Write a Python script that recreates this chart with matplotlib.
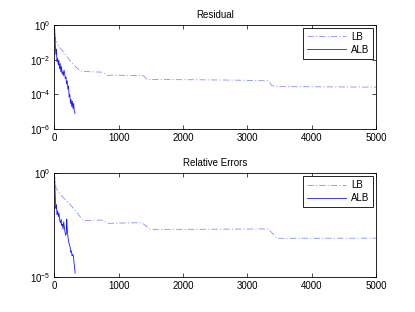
import matplotlib
matplotlib.use("Agg")
import matplotlib.pyplot as plt
import numpy as np
from matplotlib.ticker import NullLocator

# residual, LB (iteration, value)
res_lb_x = [0, 20, 60, 150, 250, 400, 550, 740, 815, 1000, 1384, 1437, 2000, 2800, 3328, 3381, 3450, 4200, 5000]
res_lb_y = [1.0, 0.12, 0.06, 0.025, 0.008, 2.2e-3, 2.0e-3, 1.9e-3, 1.26e-3, 1.25e-3, 1.2e-3, 7.2e-4, 7.0e-4, 6.6e-4, 6.0e-4, 3.2e-4, 2.8e-4, 2.7e-4, 2.6e-4]

# residual, ALB
res_alb_x = [0, 8, 16, 24, 32, 40, 50, 60, 70, 80, 90, 100, 110, 120, 130, 140, 150, 160, 170, 180, 190,
             200, 210, 220, 230, 240, 250, 260, 270, 280, 290, 300, 310, 322]
res_alb_y = [1.0, 0.3, 0.05, 0.02, 0.04, 0.008, 0.012, 0.005, 0.009, 0.003, 0.006, 0.002, 0.004, 0.0015,
             0.002, 0.0012, 0.0025, 0.0016, 0.0008, 0.001, 0.0004, 0.0006, 0.0002, 0.0003, 7e-5, 1e-4,
             3e-5, 5e-5, 2e-5, 4e-5, 1.5e-5, 3e-5, 1e-5, 8e-6]

# relative errors, LB
err_lb_x = [0, 26, 100, 250, 451, 600, 737, 840, 1000, 1360, 1489, 2000, 2800, 3328, 3458, 4000, 5000]
err_lb_y = [1.0, 0.19, 0.09, 0.03, 5.1e-3, 5.3e-3, 5.5e-3, 3.8e-3, 3.9e-3, 4.1e-3, 1.95e-3, 1.95e-3, 2.0e-3, 2.05e-3, 7.2e-4, 7.2e-4, 7.3e-4]

# relative errors, ALB
err_alb_x = [0, 8, 16, 24, 32, 40, 50, 62, 72, 84, 96, 106, 115, 125, 135, 145, 155, 165, 175, 185, 193,
             200, 210, 220, 230, 244, 255, 265, 275, 285, 296, 305, 314, 322]
err_alb_y = [1.0, 0.3, 0.05, 0.02, 0.03, 0.01, 0.015, 0.008, 0.012, 0.005, 0.004, 0.006, 0.003, 0.0035,
             0.002, 0.0045, 0.0025, 0.0015, 0.001, 0.0012, 0.006, 0.002, 0.0009, 0.0005, 0.0004, 0.00028,
             0.00015, 0.00018, 0.0001, 0.00012, 0.0001, 5e-5, 3e-5, 1.5e-5]

titles = ["Residual", "Relative Errors"]

plt.rcParams['font.family'] = ['Liberation Sans', 'DejaVu Sans']
plt.rcParams['font.size'] = 7
plt.rcParams['mathtext.fontset'] = 'custom'
plt.rcParams['mathtext.rm'] = 'Liberation Sans'
plt.rcParams['mathtext.it'] = 'Liberation Sans'
plt.rcParams['lines.scale_dashes'] = False

dashdot = (0, (4.5, 1.6, 0.8, 1.6))

fig = plt.figure(figsize=(4.15, 3.12), dpi=100)
ax1 = fig.add_axes([0.131, 0.5865, 0.775, 0.3335])
ax2 = fig.add_axes([0.131, 0.1131, 0.775, 0.3315])

ax1.semilogy(res_lb_x, res_lb_y, linestyle=dashdot, color='#3344ff', lw=0.6, alpha=0.6, label='LB')
ax1.semilogy(res_alb_x, res_alb_y, '-', color='#1a1aff', lw=0.6, label='ALB')
ax1.set_ylim(1e-6, 1)
ax1.set_yticks([1e-6, 1e-4, 1e-2, 1])

ax2.semilogy(err_lb_x, err_lb_y, linestyle=dashdot, color='#3344ff', lw=0.6, alpha=0.6, label='LB')
ax2.semilogy(err_alb_x, err_alb_y, '-', color='#1a1aff', lw=0.6, label='ALB')
ax2.set_ylim(1e-5, 1)
ax2.set_yticks([1e-5, 1])

for ax, t in zip([ax1, ax2], titles):
    ax.set_xlim(0, 5000)
    ax.set_xticks([0, 1000, 2000, 3000, 4000, 5000])
    ax.yaxis.set_minor_locator(NullLocator())
    ax.tick_params(direction='in', top=True, right=True, length=3, width=0.5, labelsize=7, pad=3)
    for s in ax.spines.values():
        s.set_linewidth(0.6)
    ax.set_title(t, fontsize=7, pad=5)
    leg = ax.legend(loc='upper right', fontsize=7, fancybox=False, framealpha=1,
                    edgecolor='black', handlelength=4.0, borderaxespad=0.3,
                    labelspacing=0.3, borderpad=0.4, handletextpad=0.5)
    leg.get_frame().set_linewidth(0.6)

fig.savefig("out.png", dpi=100)
